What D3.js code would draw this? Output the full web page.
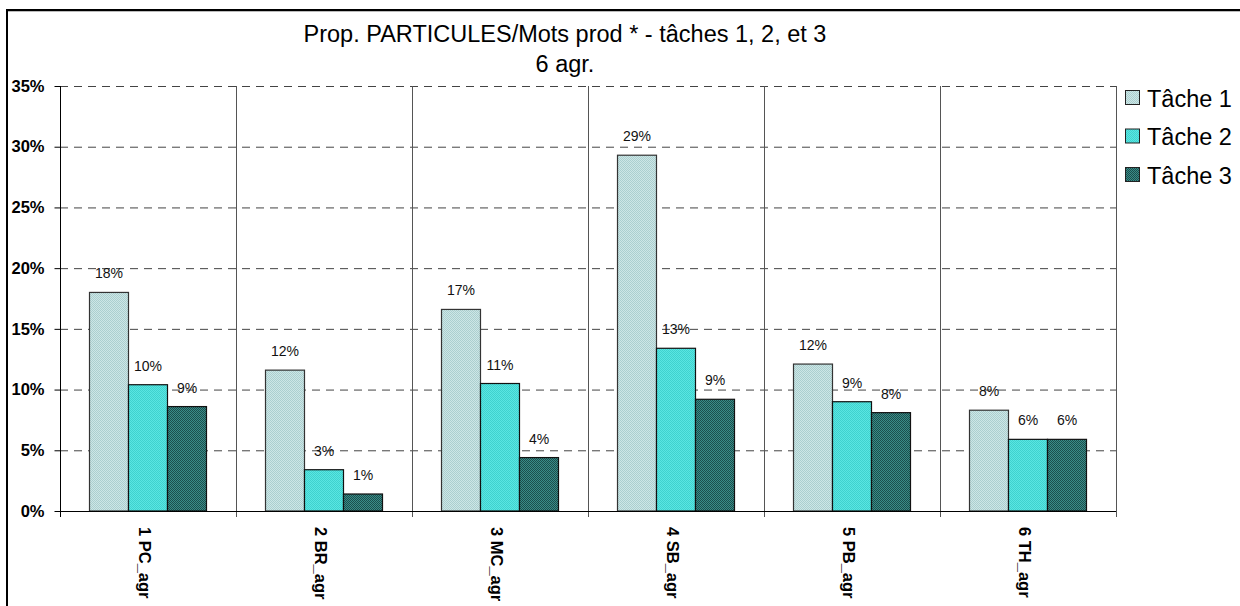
<!DOCTYPE html>
<html><head><meta charset="utf-8">
<script src="https://cdn.jsdelivr.net/npm/d3@7"></script>
<style>body{margin:0;background:#fff;overflow:hidden}svg{display:block}text{font-family:"Liberation Sans",Arial,sans-serif}</style>
</head><body>
<svg id="c" width="1240" height="606"></svg>
<script>
const categories = ["1 PC_agr","2 BR_agr","3 MC_agr","4 SB_agr","5 PB_agr","6 TH_agr"];
const seriesNames = ["Tâche 1","Tâche 2","Tâche 3"];
const tache1 = [18.0, 11.6, 16.6, 29.3, 12.1, 8.3];
const tache2 = [10.4, 3.4, 10.5, 13.4, 9.0, 5.9];
const tache3 = [8.6, 1.4, 4.4, 9.2, 8.1, 5.9];
const yTicks = [0,5,10,15,20,25,30,35];
const titleLines = ["Prop. PARTICULES/Mots prod * - tâches 1, 2, et 3","6 agr."];

const series = [tache1, tache2, tache3];
const svg = d3.select("#c");
const defs = svg.append("defs");
const pats = [
  {id:"p1", bg:"#cde6e6", dot:"#abcfcf"},
  {id:"p2", bg:"#5ae6e2", dot:"#3fd2ce"},
  {id:"p3", bg:"#3a8c88", dot:"#1b4f4d"}
];
pats.forEach(p=>{
  const pt = defs.append("pattern").attr("id",p.id).attr("width",2).attr("height",2).attr("patternUnits","userSpaceOnUse");
  pt.append("rect").attr("width",2).attr("height",2).attr("fill",p.bg);
  pt.append("rect").attr("width",1).attr("height",1).attr("fill",p.dot);
  pt.append("rect").attr("x",1).attr("y",1).attr("width",1).attr("height",1).attr("fill",p.dot);
});

// frame (top and left edges only visible)
svg.append("path").attr("d","M7,606V10H1240").attr("fill","none").attr("stroke","#000").attr("stroke-width",2);
svg.append("line").attr("x1",8).attr("x2",1240).attr("y1",11.5).attr("y2",11.5).attr("stroke","#bbb").attr("stroke-width",1);

const L=60,R=1116,T=86,B=511;
const x = d3.scaleBand().domain(categories).range([L,R]).paddingInner(0).paddingOuter(0);
const xs = d3.scaleBand().domain(d3.range(3)).range([29.5, 176-29.5]).padding(0);
const y = d3.scaleLinear().domain([0,35]).range([B,T]);

// gridlines
svg.append("g").selectAll("line").data(yTicks.filter(d=>d>0)).join("line")
  .attr("x1",L).attr("x2",R).attr("y1",d=>y(d)+0.5).attr("y2",d=>y(d)+0.5)
  .attr("stroke","#444").attr("stroke-dasharray","8,6");

// category separators
svg.append("g").selectAll("line").data(categories).join("line")
  .attr("x1",d=>Math.round(x(d)+x.bandwidth())+0.5).attr("x2",d=>Math.round(x(d)+x.bandwidth())+0.5)
  .attr("y1",T).attr("y2",B+6).attr("stroke","#555").attr("stroke-width",1);

// bars
categories.forEach((c,ci)=>{
  series.forEach((s,si)=>{
    const x0 = x(c)+xs(si);
    svg.append("rect").attr("x",x0).attr("y",y(s[ci])).attr("width",xs.bandwidth()).attr("height",B-y(s[ci]))
      .attr("fill",`url(#p${si+1})`).attr("stroke",si===0?"#333":"#111").attr("stroke-width",1.2);
    svg.append("text").attr("x",x0+xs.bandwidth()/2).attr("y",y(s[ci])-14)
      .attr("text-anchor","middle").attr("font-size",14).attr("fill","#111")
      .text(Math.round(s[ci])+"%");
  });
});

// y axis
const ya = svg.append("g").attr("transform",`translate(${L+0.5},0)`)
  .call(d3.axisLeft(y).tickValues(yTicks).tickSize(6).tickFormat(d=>d+"%"));
ya.select(".domain").attr("stroke","#000").attr("d",`M0,${T}V${B}`);
ya.selectAll(".tick line").attr("stroke","#000");
ya.selectAll("text").attr("font-size",16.5).attr("font-weight","bold").attr("fill","#000").attr("font-family","Liberation Sans, Arial, sans-serif").attr("x",-16);

// x axis baseline
svg.append("line").attr("x1",L).attr("x2",R).attr("y1",B+0.5).attr("y2",B+0.5).attr("stroke","#000");
svg.append("line").attr("x1",L+0.5).attr("x2",L+0.5).attr("y1",B).attr("y2",B+6).attr("stroke","#000");

// category labels
svg.append("g").selectAll("text").data(categories).join("text")
  .attr("transform",d=>`translate(${x(d)+x.bandwidth()/2-3},527) rotate(90)`)
  .attr("dy","0.35em").attr("font-size",16.5).attr("font-weight","bold").attr("fill","#000").text(d=>d);

// title
svg.append("g").selectAll("text").data(titleLines).join("text")
  .attr("x",565).attr("y",(d,i)=>34+i*30).attr("dy","0.35em").attr("text-anchor","middle").attr("font-size",23.5).attr("fill","#000").text(d=>d);

// legend
const lg = svg.append("g");
seriesNames.forEach((n,i)=>{
  const yy = 97.5+i*38.5;
  lg.append("rect").attr("x",1125.5).attr("y",yy-7).attr("width",14).attr("height",14)
    .attr("fill",`url(#p${i+1})`).attr("stroke","#222");
  lg.append("text").attr("x",1147).attr("y",yy+1).attr("dy","0.35em").attr("font-size",23.5).attr("fill","#000").text(n);
});
</script>
</body></html>
